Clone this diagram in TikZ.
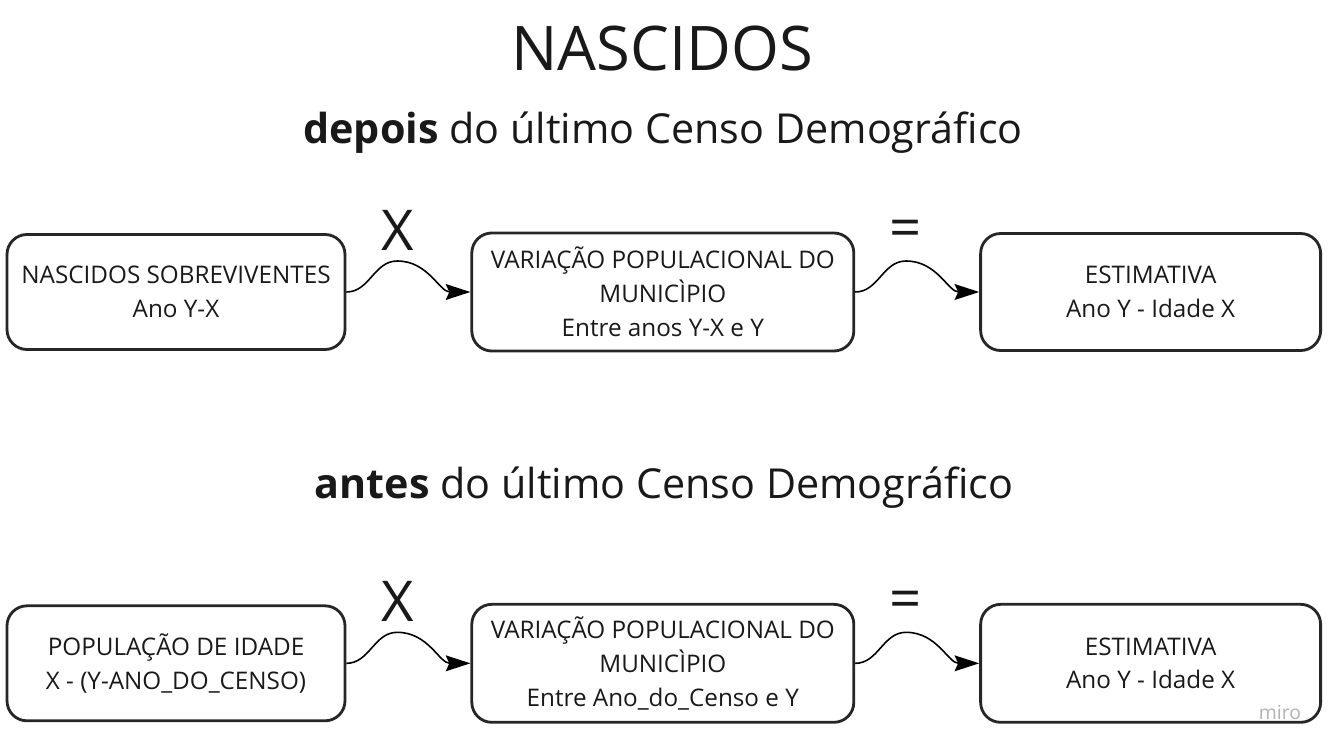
\documentclass[tikz,border=0pt]{standalone}
\usepackage{fontspec}
\setmainfont{Open Sans}
\usepackage{tikz}
\usetikzlibrary{arrows.meta, positioning, calc}
\tikzstyle{stage} = [rectangle, rounded corners=0.4cm, line width=1.6pt, draw=black!85, minimum height=2.3cm, text centered, align=center, text=black!90, font=\fontsize{13.8}{19.3}\selectfont]
\tikzstyle{arrow} = [line width=0.9pt, -{Stealth[length=14pt,width=9pt,inset=2pt]}]
\tikzstyle{op} = [inner sep=0pt, text=black!90, font=\fontsize{32}{32}\selectfont]
\tikzstyle{heading} = [text=black!90, font=\fontsize{23.5}{28}\selectfont]

\begin{document}
\begin{tikzpicture}
    \useasboundingbox (0,0) rectangle (26.68,-14.98);

    % Titles
    \node (title) [text=black!90, font=\fontsize{35}{42}\selectfont] at (13.24,-0.96) {NASCIDOS};
    \node (depois) [heading] at (13.26,-2.66) {\textbf{depois} do último Censo Demográfico};
    \node (antes) [heading] at (13.28,-9.76) {\textbf{antes} do último Censo Demográfico};

    % Main components
    \node (nascidos) [stage, minimum width=6.76cm] at (3.52,-5.84) {NASCIDOS SOBREVIVENTES\\Ano Y-X};

    \node (variacaoA) [stage, minimum width=7.64cm, minimum height=2.36cm, right=2.48cm of nascidos] {VARIAÇÃO POPULACIONAL DO\\MUNICÌPIO\\Entre anos Y-X e Y};

    \node (estimativaA) [stage, minimum width=6.8cm, minimum height=2.34cm, right=2.48cm of variacaoA] {ESTIMATIVA\\Ano Y - Idade X};

    \node (populacao) [stage, minimum width=6.76cm, below=5.07cm of nascidos] {POPULAÇÃO DE IDADE\\X - (Y-ANO\_DO\_CENSO)};

    \node (variacaoB) [stage, minimum width=7.64cm, minimum height=2.36cm, right=2.48cm of populacao] {VARIAÇÃO POPULACIONAL DO\\MUNICÌPIO\\Entre Ano\_do\_Censo e Y};

    \node (estimativaB) [stage, minimum width=6.8cm, minimum height=2.36cm, right=2.48cm of variacaoB] {ESTIMATIVA\\Ano Y - Idade X};

    % Wave peaks
    \coordinate (peakA) at ($(nascidos.east)!0.41!(variacaoA.west)+(0,0.62)$);
    \coordinate (peakB) at ($(variacaoA.east)!0.41!(estimativaA.west)+(0,0.62)$);
    \coordinate (peakC) at ($(populacao.east)!0.41!(variacaoB.west)+(0,0.62)$);
    \coordinate (peakD) at ($(variacaoB.east)!0.41!(estimativaB.west)+(0,0.62)$);

    % Arrows
    \draw [arrow] (nascidos.east) to[out=0,in=180] (peakA) to[out=0,in=180] (variacaoA.west);
    \draw [arrow] (variacaoA.east) to[out=0,in=180] (peakB) to[out=0,in=180] (estimativaA.west);
    \draw [arrow] (populacao.east) to[out=0,in=180] (peakC) to[out=0,in=180] (variacaoB.west);
    \draw [arrow] (variacaoB.east) to[out=0,in=180] (peakD) to[out=0,in=180] (estimativaB.west);

    % Labels
    \node (timesA) [op] at ($(peakA)+(0,0.62)$) {X};
    \node (equalsA) [op] at ($(peakB)+(0,0.55)$) {=};
    \node (timesB) [op] at ($(peakC)+(0,0.62)$) {X};
    \node (equalsB) [op] at ($(peakD)+(0,0.55)$) {=};

    \node (miro) [text=black!30, font=\fontsize{11}{11}\selectfont] at (25.6,-14.24) {miro};
\end{tikzpicture}
\end{document}
